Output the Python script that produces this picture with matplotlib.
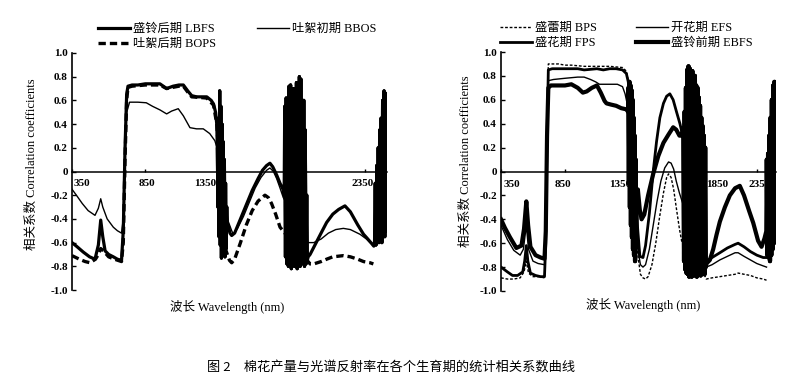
import matplotlib
matplotlib.use('Agg')
import matplotlib.pyplot as plt
from matplotlib.collections import LineCollection
import numpy as np

plt.rcParams['font.family'] = ['Liberation Serif', 'Noto Sans CJK SC']
plt.rcParams['path.simplify'] = False

# ---------------- Left panel data ----------------
LBFS_a_wl = [350,380,427,470,507,530,546,560,576,600,632,660,688,700,712,723,732,760,800,850,900,950,996,1040,1080,1110,1140,1167,1200,1240,1270,1300,1316,1330,1338]
LBFS_a_r = [-0.60,-0.63,-0.68,-0.72,-0.74,-0.62,-0.41,-0.55,-0.67,-0.70,-0.72,-0.74,-0.75,-0.50,0.20,0.65,0.72,0.73,0.73,0.74,0.74,0.74,0.70,0.72,0.73,0.73,0.68,0.64,0.63,0.63,0.63,0.60,0.57,0.50,0.40]
L_band1_wl = [1342,1346,1350,1354,1358,1362,1366,1370,1374,1378,1382,1386,1390,1394,1398,1402,1406,1410]
L_band1_r = [0.20,-0.30,0.45,-0.55,0.68,-0.62,0.55,-0.73,0.40,-0.70,0.25,-0.60,0.10,-0.72,-0.10,-0.65,-0.30,-0.50]
LBFS_b_wl = [1416,1428,1440,1460,1500,1540,1580,1620,1650,1678,1701,1720,1747,1770,1790,1798]
LBFS_b_r = [-0.45,-0.52,-0.54,-0.52,-0.40,-0.28,-0.16,-0.06,0.01,0.05,0.07,0.04,-0.03,-0.10,-0.15,-0.20]
L_band2_wl = [1802,1807,1812,1817,1822,1827,1832,1837,1842,1847,1852,1857,1862,1867,1872,1877,1882,1887,1892,1897,1902,1907,1912,1917,1922,1927,1932,1937,1942,1947,1952,1956]
L_band2_r = [0.55,-0.72,0.62,-0.78,0.60,-0.80,0.72,-0.76,0.73,-0.82,0.66,-0.78,0.70,-0.80,0.65,-0.77,0.75,-0.82,0.68,-0.79,0.80,-0.80,0.78,-0.76,0.60,-0.78,0.60,-0.80,0.35,-0.78,-0.20,-0.75]
LBFS_c_wl = [1962,1975,2000,2050,2088,2130,2170,2213,2250,2300,2340,2362,2390,2410]
LBFS_c_r = [-0.72,-0.70,-0.64,-0.52,-0.43,-0.36,-0.32,-0.29,-0.34,-0.45,-0.53,-0.56,-0.60,-0.63]
L_band3_wl = [2415,2420,2425,2430,2435,2440,2445,2450,2455,2460,2465,2470,2475,2480,2485,2490,2495,2500]
L_band3_r = [-0.60,-0.10,-0.62,0.05,-0.58,0.20,-0.60,0.35,-0.55,0.45,-0.60,0.60,-0.50,0.68,-0.55,0.66,-0.50,0.30]

BBOS_wl = [350,380,420,460,507,530,546,560,590,632,660,688,700,712,723,743,800,857,900,950,996,1030,1075,1110,1155,1200,1246,1290,1325,1340,
           1416,1440,1451,1480,1520,1560,1600,1640,1678,1701,1725,1747,1770,1792,
           1960,2000,2050,2100,2150,2202,2250,2316,2360,2384,2410]
BBOS_r = [-0.15,-0.20,-0.27,-0.33,-0.37,-0.31,-0.23,-0.30,-0.40,-0.47,-0.50,-0.52,-0.40,0.10,0.50,0.585,0.585,0.58,0.55,0.52,0.486,0.51,0.53,0.47,0.37,0.36,0.36,0.32,0.26,0.20,
          -0.42,-0.50,-0.53,-0.48,-0.38,-0.26,-0.14,-0.05,0.01,0.03,0.00,-0.06,-0.14,-0.22,
          -0.60,-0.60,-0.57,-0.52,-0.49,-0.48,-0.49,-0.53,-0.57,-0.60,-0.62]

BOPS_wl = [350,400,440,473,510,530,546,565,600,640,688,700,712,723,732,760,850,950,996,1080,1110,1140,1167,1270,1316,1338,
           1394,1410,1425,1440,1460,1500,1540,1580,1620,1667,1690,1712,1740,1770,1790,
           1975,2000,2050,2088,2130,2202,2250,2300,2340,2384,2407]
BOPS_r = [-0.71,-0.74,-0.76,-0.77,-0.74,-0.70,-0.65,-0.67,-0.72,-0.74,-0.76,-0.60,0.10,0.60,0.71,0.72,0.73,0.73,0.70,0.72,0.72,0.67,0.63,0.62,0.56,0.40,
          -0.64,-0.70,-0.75,-0.77,-0.74,-0.60,-0.45,-0.33,-0.25,-0.20,-0.22,-0.27,-0.36,-0.47,-0.50,
          -0.78,-0.78,-0.76,-0.74,-0.72,-0.71,-0.72,-0.74,-0.76,-0.77,-0.78]

# ---------------- Right panel data ----------------
EBFS_a_wl = [350,380,420,470,510,530,548,562,580,620,660,690,700,710,720,740,800,850,900,950,990,1020,1060,1100,1130,1160,1175,1210,1250,1290,1330,1343]
EBFS_a_r = [-0.40,-0.47,-0.55,-0.64,-0.62,-0.48,-0.25,-0.45,-0.63,-0.70,-0.72,-0.73,-0.50,0.30,0.70,0.72,0.72,0.72,0.73,0.70,0.66,0.67,0.70,0.72,0.66,0.59,0.57,0.56,0.55,0.53,0.52,0.50]
R_band1_wl = [1346,1350,1354,1358,1362,1366,1370,1374,1378,1382,1386,1390,1394,1398,1402,1406,1410]
R_band1_r = [0.70,-0.10,0.75,-0.30,0.72,-0.45,0.68,-0.55,0.60,-0.65,0.45,-0.70,0.30,-0.75,0.10,-0.60,-0.20]
EBFS_b_wl = [1420,1435,1449,1470,1500,1540,1580,1620,1660,1696,1720,1745,1762,1772]
EBFS_b_r = [-0.15,-0.32,-0.40,-0.36,-0.20,-0.02,0.13,0.24,0.31,0.37,0.35,0.30,0.30,0.36]
R_band2_wl = [1776,1781,1786,1791,1796,1801,1806,1811,1816,1821,1826,1831,1836,1841,1846,1851,1856,1861,1866,1871,1876,1881,1886,1891,1896,1901,1906,1911,1916,1921,1926,1931,1936,1941,1946,1951]
R_band2_r = [0.35,-0.75,0.50,-0.82,0.70,-0.85,0.85,-0.86,0.88,-0.88,0.86,-0.85,0.82,-0.88,0.84,-0.86,0.78,-0.87,0.80,-0.85,0.72,-0.88,0.70,-0.86,0.62,-0.84,0.55,-0.87,0.45,-0.85,0.38,-0.83,0.30,-0.86,0.20,-0.80]
EBFS_c_wl = [1957,1983,2009,2035,2061,2100,2139,2180,2217,2250,2290,2322,2360,2387,2410,2424]
EBFS_c_r = [-0.77,-0.74,-0.65,-0.53,-0.42,-0.30,-0.20,-0.14,-0.12,-0.20,-0.33,-0.43,-0.58,-0.63,-0.56,-0.50]
R_band3_wl = [2428,2433,2438,2443,2448,2453,2458,2463,2468,2473,2478,2483,2488,2493,2498,2500]
R_band3_r = [0.10,-0.70,0.15,-0.72,0.30,-0.75,0.45,-0.70,0.60,-0.65,0.72,-0.60,0.75,-0.50,0.70,0.40]

FPS_wl = [350,400,440,480,520,535,548,560,580,620,660,690,700,710,720,750,850,950,1000,1100,1150,1200,1250,1300,1330,1345,1360,1380,1400,1420,1436,1460,1480,1510,1540,1566,1592,1620,1645,1670,1696,1722,1749,1775,
          1955,2000,2061,2120,2180,2204,2250,2300,2350,2400,2426]
FPS_r = [-0.80,-0.84,-0.87,-0.87,-0.84,-0.75,-0.62,-0.75,-0.85,-0.87,-0.88,-0.88,-0.60,0.30,0.85,0.86,0.86,0.86,0.85,0.86,0.85,0.86,0.86,0.85,0.82,0.75,0.55,0.20,-0.20,-0.50,-0.71,-0.72,-0.62,-0.35,0.00,0.25,0.45,0.57,0.63,0.65,0.60,0.50,0.40,0.28,
         -0.75,-0.72,-0.68,-0.64,-0.61,-0.60,-0.63,-0.67,-0.70,-0.72,-0.72]

EFS_wl = [350,400,450,500,525,548,565,600,640,690,700,710,720,760,850,950,1000,1050,1090,1120,1200,1260,1300,1320,1340,1360,1380,1400,1420,1440,1460,1480,1510,1540,1570,1600,1630,1660,1680,1700,1720,1745,1775,
          1955,2000,2061,2120,2180,2204,2250,2300,2350,2400,2426]
EFS_r = [-0.45,-0.57,-0.66,-0.70,-0.65,-0.45,-0.65,-0.75,-0.77,-0.78,-0.50,0.30,0.76,0.77,0.78,0.79,0.79,0.77,0.75,0.73,0.73,0.73,0.71,0.65,0.55,0.30,0.00,-0.35,-0.65,-0.78,-0.80,-0.78,-0.65,-0.45,-0.25,-0.08,0.03,0.08,0.07,0.02,-0.08,-0.18,-0.28,
         -0.80,-0.78,-0.74,-0.71,-0.68,-0.68,-0.71,-0.74,-0.77,-0.79,-0.80]

BPS_wl = [350,400,450,500,530,548,565,600,650,690,700,710,720,760,800,850,900,950,1000,1100,1200,1300,1330,1345,1360,1380,1400,1420,1440,1460,1480,1500,1530,1560,1590,1620,1645,1660,1680,1700,1720,1745,1762,1775,1790,
          1955,2000,2061,2120,2180,2204,2250,2300,2350,2400,2426]
BPS_r = [-0.89,-0.90,-0.90,-0.89,-0.84,-0.75,-0.85,-0.88,-0.88,-0.89,-0.60,0.30,0.90,0.90,0.90,0.89,0.89,0.885,0.88,0.88,0.88,0.87,0.84,0.76,0.55,0.15,-0.30,-0.70,-0.86,-0.89,-0.90,-0.88,-0.78,-0.60,-0.38,-0.18,-0.05,-0.02,-0.05,-0.15,-0.30,-0.48,-0.58,-0.60,-0.50,
         -0.90,-0.89,-0.88,-0.87,-0.86,-0.85,-0.86,-0.87,-0.89,-0.90,-0.91]

# labels
left_labels = ['盛铃后期 LBFS', '吐絮初期 BBOS', '吐絮后期 BOPS']
right_labels = ['盛蕾期 BPS', '开花期 EFS', '盛花期 FPS', '盛铃前期 EBFS']
ytick_vals = [1.0, 0.8, 0.6, 0.4, 0.2, 0, -0.2, -0.4, -0.6, -0.8, -1.0]
ytick_labels = ['1.0', '0.8', '0.6', '0.4', '0.2', '0', '-0.2', '-0.4', '-0.6', '-0.8', '-1.0']
xtick_vals = [350, 850, 1350, 1850, 2350]
left_xlab = [(418, '350'), (862, '850'), (1258, '1350'), (2336, '2350')]
right_xlab = [(436, '350'), (834, '850'), (1280, '1350'), (2037, '1850'), (2373, '2350')]
ylabel = '相关系数 Correlation coefficients'
xlabel = '波长 Wavelength (nm)'
caption = '图 2　棉花产量与光谱反射率在各个生育期的统计相关系数曲线'

W, H = 794, 379
fig = plt.figure(figsize=(W/100, H/100), dpi=100)

def px_ax(x0, x1, ytop, ybot):
    return fig.add_axes([x0/W, 1-ybot/H, (x1-x0)/W, (ybot-ytop)/H])

axL = px_ax(72, 387, 53, 290)
axR = px_ax(501, 776, 52, 291)

def setup(ax, xlabs, ylab_y):
    ax.set_xlim(350, 2500)
    ax.set_ylim(-1, 1)
    ax.patch.set_alpha(0)
    ax.spines['top'].set_visible(False)
    ax.spines['right'].set_visible(False)
    ax.spines['bottom'].set_position(('data', 0))
    ax.spines['left'].set_linewidth(1.2)
    ax.spines['bottom'].set_linewidth(1.1)
    ax.set_xticks(xtick_vals)
    ax.set_xticklabels([])
    ax.tick_params(axis='x', direction='in', length=2.5, width=1)
    ax.set_yticks(ytick_vals)
    ax.set_yticklabels(ytick_labels)
    ax.tick_params(axis='y', direction='in', length=3, width=1, pad=3, labelsize=8)
    for t in ax.get_yticklabels():
        t.set_fontweight('bold')
    for xv, s in xlabs:
        ax.text(xv, ylab_y, s, ha='center', va='center', fontsize=8, fontweight='bold', zorder=1)

setup(axL, left_xlab, -0.10)
setup(axR, right_xlab, -0.108)

def band(ax, wl, r, lw):
    # the water-absorption noise: each step drawn as its own stroke so the block fills solid
    pts = np.column_stack([wl, r])
    segs = np.stack([pts[:-1], pts[1:]], axis=1)
    ax.add_collection(LineCollection(segs, colors='black', linewidths=lw, capstyle='round', zorder=3))

# left panel lines
lB = axL.plot(BBOS_wl, BBOS_r, color='black', lw=1.0, zorder=2)[0]
lO = axL.plot(BOPS_wl, BOPS_r, color='black', lw=2.4, dashes=(2.2, 1.2), zorder=2)[0]
LBFS_wl = LBFS_a_wl + L_band1_wl + LBFS_b_wl + L_band2_wl + LBFS_c_wl + L_band3_wl
LBFS_r = LBFS_a_r + L_band1_r + LBFS_b_r + L_band2_r + LBFS_c_r + L_band3_r
lL = axL.plot(LBFS_wl, LBFS_r, color='black', lw=2.3, zorder=3)[0]
for bw, br in [(L_band1_wl, L_band1_r), (L_band2_wl, L_band2_r), (L_band3_wl, L_band3_r)]:
    band(axL, bw, br, 2.3)

# right panel lines
rB = axR.plot(BPS_wl, BPS_r, color='black', lw=1.0, dashes=(2.0, 1.3), zorder=2)[0]
rE = axR.plot(EFS_wl, EFS_r, color='black', lw=1.0, zorder=2)[0]
rF = axR.plot(FPS_wl, FPS_r, color='black', lw=2.0, zorder=2)[0]
EBFS_wl = EBFS_a_wl + R_band1_wl + EBFS_b_wl + R_band2_wl + EBFS_c_wl + R_band3_wl
EBFS_r = EBFS_a_r + R_band1_r + EBFS_b_r + R_band2_r + EBFS_c_r + R_band3_r
rEB = axR.plot(EBFS_wl, EBFS_r, color='black', lw=3.0, zorder=3)[0]
for bw, br in [(R_band1_wl, R_band1_r), (R_band2_wl, R_band2_r), (R_band3_wl, R_band3_r)]:
    band(axR, bw, br, 3.0)

leg_kw = dict(frameon=False, fontsize=8.8, handlelength=2.6, handletextpad=0.25,
              borderpad=0, borderaxespad=0, labelspacing=0.25, loc='upper left')
fig.legend(handles=[lL, lO], labels=[left_labels[0], left_labels[2]], bbox_to_anchor=(98/W, 1-23/H), **leg_kw)
fig.legend(handles=[lB], labels=[left_labels[1]], bbox_to_anchor=(257/W, 1-23/H), **leg_kw)
fig.legend(handles=[rB, rF], labels=[right_labels[0], right_labels[2]], bbox_to_anchor=(500/W, 1-22/H), **leg_kw)
fig.legend(handles=[rE, rEB], labels=[right_labels[1], right_labels[3]], bbox_to_anchor=(636/W, 1-22/H), **leg_kw)

fig.text(32/W, 1-164/H, ylabel, rotation=90, ha='center', va='center', fontsize=9)
fig.text(466/W, 1-161/H, ylabel, rotation=90, ha='center', va='center', fontsize=9)
fig.text(227/W, 1-307/H, xlabel, ha='center', va='center', fontsize=9)
fig.text(643/W, 1-305/H, xlabel, ha='center', va='center', fontsize=9)
fig.text(207/W, 1-367/H, caption, ha='left', va='center', fontsize=9.5, family=['Noto Sans CJK SC'])

fig.savefig('out.png', dpi=100, facecolor='white')
